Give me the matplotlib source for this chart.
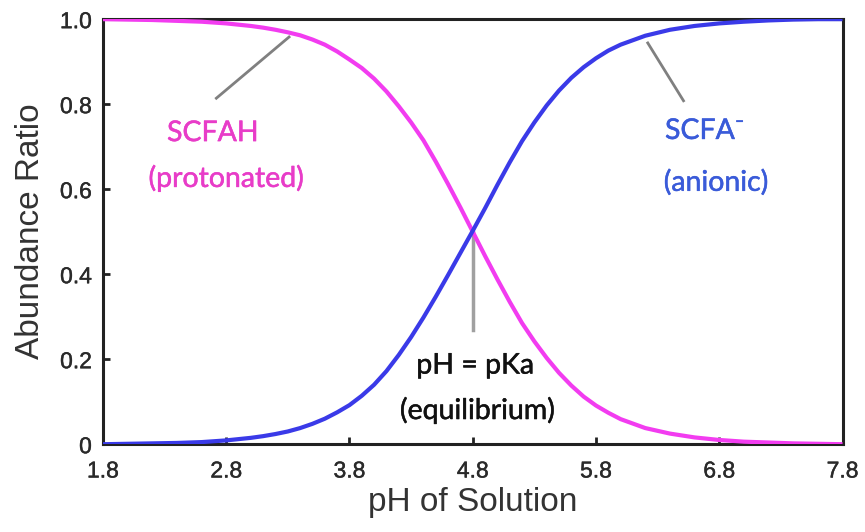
import matplotlib
matplotlib.use("Agg")
import matplotlib.pyplot as plt
import matplotlib.patheffects as pe

ph = [1.8, 2.0, 2.2, 2.4, 2.6, 2.8, 3.0, 3.1, 3.2, 3.3, 3.4, 3.5, 3.6, 3.7, 3.8, 3.9,
      4.0, 4.1, 4.2, 4.3, 4.4, 4.5, 4.6, 4.7, 4.8, 4.9, 5.0, 5.1, 5.2, 5.3, 5.4, 5.5,
      5.6, 5.7, 5.8, 5.9, 6.0, 6.2, 6.4, 6.6, 6.8, 7.0, 7.2, 7.4, 7.6, 7.8]
protonated = [1.000, 0.999, 0.998, 0.996, 0.994, 0.990, 0.984, 0.980, 0.975, 0.969,
              0.962, 0.952, 0.940, 0.924, 0.905, 0.885, 0.860, 0.830, 0.795, 0.757,
              0.715, 0.665, 0.612, 0.557, 0.500, 0.443, 0.388, 0.335, 0.285, 0.242,
              0.203, 0.168, 0.138, 0.112, 0.091, 0.074, 0.059, 0.038, 0.025, 0.016,
              0.010, 0.006, 0.004, 0.002, 0.001, 0.000]
anionic = [0.000, 0.001, 0.002, 0.003, 0.005, 0.009, 0.015, 0.019, 0.024, 0.030,
           0.038, 0.048, 0.060, 0.075, 0.092, 0.114, 0.140, 0.172, 0.210, 0.252,
           0.298, 0.347, 0.398, 0.450, 0.502, 0.555, 0.610, 0.663, 0.713, 0.757,
           0.797, 0.832, 0.862, 0.887, 0.908, 0.926, 0.940, 0.961, 0.975, 0.984,
           0.990, 0.994, 0.997, 0.999, 1.000, 1.000]
xticks = [1.8, 2.8, 3.8, 4.8, 5.8, 6.8, 7.8]
xtick_labels = ["1.8", "2.8", "3.8", "4.8", "5.8", "6.8", "7.8"]
yticks = [0, 0.2, 0.4, 0.6, 0.8, 1.0]
ytick_labels = ["0", "0.2", "0.4", "0.6", "0.8", "1.0"]

fig = plt.figure(figsize=(8.65, 5.32), dpi=100)
ax = fig.add_axes([0.119, 0.165, 0.855, 0.799])

ax.plot(ph, protonated, color="#F23CF0", lw=3, solid_capstyle="butt", zorder=3)
ax.plot(ph, anionic, color="#3A3AE8", lw=3, solid_capstyle="butt", zorder=3)

ax.set_xlim(1.8, 7.8)
ax.set_ylim(0, 1.0)
ax.set_xticks(xticks)
ax.set_xticklabels(xtick_labels)
ax.set_yticks(yticks)
ax.set_yticklabels(ytick_labels)
for s in ax.spines.values():
    s.set_linewidth(2.2)
    s.set_color("#222222")
ax.tick_params(direction="in", length=5, width=2, colors="#222222",
               labelsize=16.5, labelcolor="#2a2a2a")
ax.tick_params(axis="x", pad=11)
ax.tick_params(axis="y", pad=8)
tick_fx = [pe.withStroke(linewidth=0.3, foreground="#2a2a2a")]
for lab in ax.get_xticklabels() + ax.get_yticklabels():
    lab.set_family("Liberation Sans")
    lab.set_path_effects(tick_fx)

ax.set_xlabel("pH of Solution", fontsize=24, family="Liberation Sans",
              color="#333333", labelpad=3)
ax.set_ylabel("Abundance Ratio", fontsize=24, family="Liberation Sans",
              color="#333333", labelpad=10)

ann_font = ["Lato", "DejaVu Sans"]
fs = 20.5


def label(x, y, s, color, ha):
    t = ax.text(x, y, s, color=color, fontsize=fs, family=ann_font,
                ha=ha, va="center")
    t.set_path_effects([pe.withStroke(linewidth=0.35, foreground=color)])
    return t


# SCFAH annotation
ax.plot([2.72, 3.31], [0.814, 0.958], color="#808080", lw=2, zorder=2)
label(2.32, 0.732, "SCFAH", "#E83CC8", "left")
label(2.17, 0.626, "(protonated)", "#E83CC8", "left")

# SCFA- annotation
ax.plot([6.22, 6.51], [0.944, 0.808], color="#808080", lw=2, zorder=2)
label(6.36, 0.737, "SCFA\u207b", "#3A5BD9", "left")
label(6.35, 0.616, "(anionic)", "#3A5BD9", "left")

# equilibrium annotation
ax.plot([4.8, 4.8], [0.50, 0.268], color="#A0A0A0", lw=2.5, zorder=2)
label(4.82, 0.185, "pH = pKa", "#111111", "center")
label(4.84, 0.080, "(equilibrium)", "#111111", "center")

fig.savefig("out.png", dpi=100)
